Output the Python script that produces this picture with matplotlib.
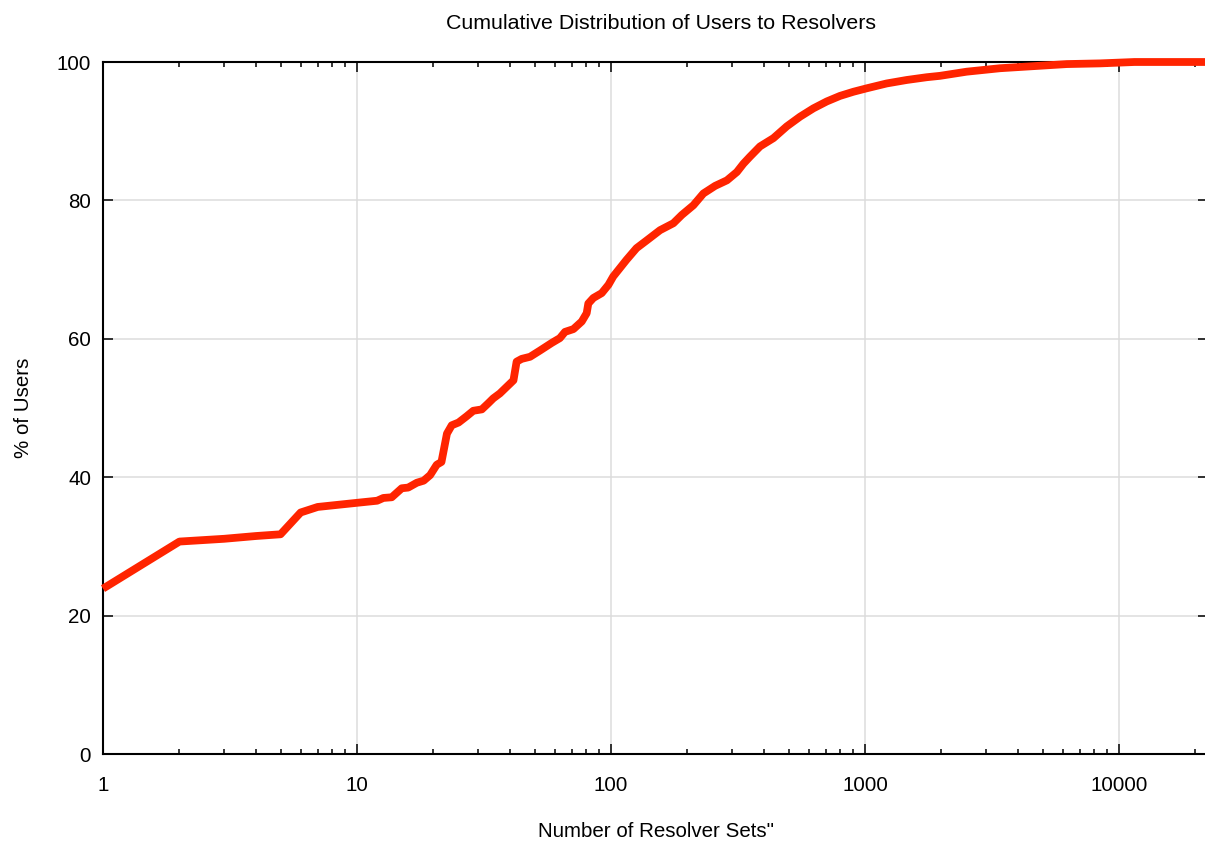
import matplotlib.pyplot as plt
from matplotlib.ticker import LogLocator, FixedLocator, NullFormatter

# Number of resolver sets (x) vs cumulative % of users (y)
resolver_sets = [1, 2, 3, 4, 5, 6, 7, 10, 12, 12.7, 13.7, 15, 15.9, 17.2, 18.3, 19.4,
                 20.6, 21.5, 22.6, 23.6, 25.1, 27, 28.7, 31, 32.9, 34.4, 36.5, 41.3,
                 42.5, 44.5, 48, 52.5, 58.4, 62.9, 65.9, 71.1, 76.7, 80.2, 81.4, 85.2,
                 91.9, 97.7, 102, 115, 126, 138, 156, 176, 190, 211, 231, 257, 286,
                 313, 332, 352, 386, 436, 492, 555, 626, 707, 797, 900, 1016, 1217,
                 1459, 1749, 1973, 2513, 3400, 4600, 6225, 8420, 11500, 16000, 22400]
pct_users = [23.9, 30.7, 31.1, 31.5, 31.75, 34.9, 35.7, 36.3, 36.6, 37.0, 37.1, 38.4,
             38.5, 39.2, 39.5, 40.3, 41.8, 42.2, 46.3, 47.5, 47.9, 48.8, 49.6, 49.8,
             50.7, 51.4, 52.1, 54.0, 56.7, 57.1, 57.4, 58.3, 59.4, 60.1, 61.0, 61.4,
             62.5, 63.7, 65.1, 65.9, 66.6, 67.8, 69.0, 71.4, 73.1, 74.2, 75.7, 76.7,
             77.9, 79.3, 81.0, 82.1, 82.9, 84.1, 85.3, 86.3, 87.8, 89.0, 90.7, 92.1,
             93.3, 94.3, 95.1, 95.7, 96.2, 96.9, 97.4, 97.8, 98.0, 98.6, 99.1, 99.4,
             99.7, 99.8, 100.0, 100.0, 100.0]

x_major = [1, 10, 100, 1000, 10000]
y_major = [0, 20, 40, 60, 80, 100]

plt.rcParams['font.family'] = ['Liberation Sans', 'DejaVu Sans']

fig = plt.figure(figsize=(12.05, 8.43), dpi=100)
W, H = 1205, 843
left, right, top, bottom = 103, 1208, 62, 754
ax = fig.add_axes([left / W, (H - bottom) / H, (right - left) / W, (bottom - top) / H])

ax.plot(resolver_sets, pct_users, color='#ff2400', linewidth=5.6,
        solid_joinstyle='round', solid_capstyle='butt', clip_on=False, zorder=3)

ax.set_xscale('log')
ax.set_xlim(1, 22400)
ax.set_ylim(0, 100)

ax.xaxis.set_major_locator(FixedLocator(x_major))
ax.xaxis.set_major_formatter(plt.FuncFormatter(lambda v, p: f'{int(v)}'))
ax.xaxis.set_minor_locator(LogLocator(base=10, subs=range(2, 10), numticks=20))
ax.xaxis.set_minor_formatter(NullFormatter())
ax.yaxis.set_major_locator(FixedLocator(y_major))

ax.tick_params(which='both', direction='in', top=True, right=True, width=1.1,
               colors='black', labelsize=14.8)
ax.tick_params(which='major', length=7.2)
ax.tick_params(which='minor', length=3.6)
ax.tick_params(axis='x', pad=15.5)
ax.tick_params(axis='y', pad=8.5)

for s in ax.spines.values():
    s.set_linewidth(1.5)
    s.set_color('black')

ax.grid(True, which='major', color='#dcdcdc', linewidth=1.1, zorder=0)
ax.set_axisbelow(True)

ax.set_title('Cumulative Distribution of Users to Resolvers', fontsize=15.4, pad=24, x=0.505)
ax.set_xlabel('Number of Resolver Sets"', fontsize=14.8, labelpad=20)
ax.set_ylabel('% of Users', fontsize=14.8, labelpad=17)

fig.savefig('out.png', dpi=100)
